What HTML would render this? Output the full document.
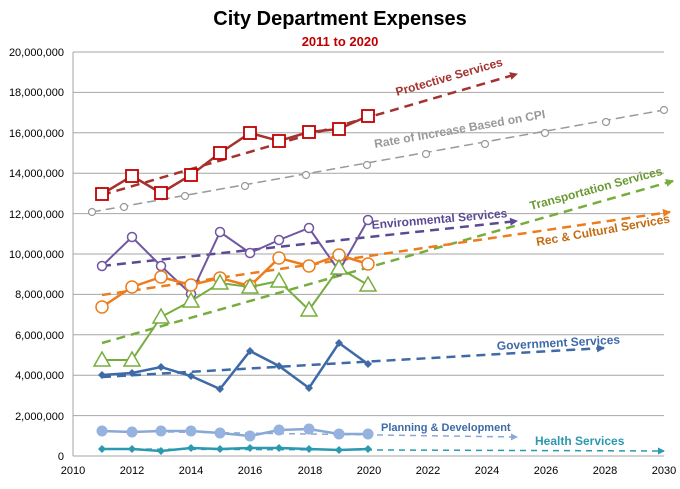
<!DOCTYPE html><html><head><style>body{margin:0;background:#fff}svg{display:block;font-family:"Liberation Sans",sans-serif}</style></head><body>
<svg width="680" height="489" viewBox="0 0 680 489">
<defs>
<marker id="a1" markerWidth="8" markerHeight="8" refX="7" refY="4" orient="auto" markerUnits="userSpaceOnUse"><path d="M0,0 L8,4 L0,8z" fill="#a4332f"/></marker>
<marker id="a2" markerWidth="8" markerHeight="8" refX="7" refY="4" orient="auto" markerUnits="userSpaceOnUse"><path d="M0,0 L8,4 L0,8z" fill="#77ad3e"/></marker>
<marker id="a3" markerWidth="8" markerHeight="8" refX="7" refY="4" orient="auto" markerUnits="userSpaceOnUse"><path d="M0,0 L8,4 L0,8z" fill="#ed7d1c"/></marker>
<marker id="a4" markerWidth="8" markerHeight="8" refX="7" refY="4" orient="auto" markerUnits="userSpaceOnUse"><path d="M0,0 L8,4 L0,8z" fill="#5b4a93"/></marker>
<marker id="a5" markerWidth="8" markerHeight="8" refX="7" refY="4" orient="auto" markerUnits="userSpaceOnUse"><path d="M0,0 L8,4 L0,8z" fill="#3e6aa7"/></marker>
<marker id="a6" markerWidth="7" markerHeight="7" refX="6" refY="3.5" orient="auto" markerUnits="userSpaceOnUse"><path d="M0,0 L7,3.5 L0,7z" fill="#8aa8d6"/></marker>
<marker id="a7" markerWidth="7" markerHeight="7" refX="6" refY="3.5" orient="auto" markerUnits="userSpaceOnUse"><path d="M0,0 L7,3.5 L0,7z" fill="#2b99b0"/></marker>
</defs>
<text x="340" y="25" text-anchor="middle" font-size="20" font-weight="bold">City Department Expenses</text>
<text x="340" y="46" text-anchor="middle" font-size="13" font-weight="bold" fill="#c00000">2011 to 2020</text>
<g stroke="#a6a6a6" stroke-width="1">
<line x1="73" y1="52" x2="664" y2="52"/><line x1="73" y1="92.4" x2="664" y2="92.4"/><line x1="73" y1="132.8" x2="664" y2="132.8"/><line x1="73" y1="173.2" x2="664" y2="173.2"/><line x1="73" y1="213.6" x2="664" y2="213.6"/><line x1="73" y1="254" x2="664" y2="254"/><line x1="73" y1="294.4" x2="664" y2="294.4"/><line x1="73" y1="334.8" x2="664" y2="334.8"/><line x1="73" y1="375.2" x2="664" y2="375.2"/><line x1="73" y1="415.6" x2="664" y2="415.6"/><line x1="73" y1="456" x2="664" y2="456"/>
<line x1="73" y1="52" x2="73" y2="456"/>
</g>
<g font-size="11" text-anchor="end" fill="#000">
<text x="64" y="56">20,000,000</text><text x="64" y="96">18,000,000</text><text x="64" y="137">16,000,000</text><text x="64" y="177">14,000,000</text><text x="64" y="218">12,000,000</text><text x="64" y="258">10,000,000</text><text x="64" y="298">8,000,000</text><text x="64" y="339">6,000,000</text><text x="64" y="379">4,000,000</text><text x="64" y="420">2,000,000</text><text x="64" y="460">0</text>
</g>
<g font-size="11" text-anchor="middle">
<text x="73" y="474">2010</text><text x="132" y="474">2012</text><text x="191" y="474">2014</text><text x="250" y="474">2016</text><text x="310" y="474">2018</text><text x="369" y="474">2020</text><text x="428" y="474">2022</text><text x="487" y="474">2024</text><text x="546" y="474">2026</text><text x="605" y="474">2028</text><text x="664" y="474">2030</text>
</g>
<!-- CPI -->
<polyline points="92,212 664,110" fill="none" stroke="#999" stroke-width="1.5" stroke-dasharray="9,5"/>
<g fill="#fff" stroke="#999" stroke-width="1.2">
<circle cx="92" cy="212" r="3.5"/><circle cx="124" cy="207" r="3.5"/><circle cx="185" cy="196" r="3.5"/><circle cx="245" cy="186" r="3.5"/><circle cx="306" cy="175" r="3.5"/><circle cx="367" cy="165" r="3.5"/><circle cx="426" cy="154" r="3.5"/><circle cx="485" cy="144" r="3.5"/><circle cx="545" cy="133" r="3.5"/><circle cx="606" cy="122" r="3.5"/><circle cx="664" cy="110" r="3.5"/>
</g>
<!-- trends -->
<g fill="none" stroke-width="2.5" stroke-dasharray="9,6">
<line x1="102" y1="195" x2="517" y2="74" stroke="#a4332f" marker-end="url(#a1)"/>
<line x1="102" y1="343" x2="673" y2="181" stroke="#77ad3e" marker-end="url(#a2)"/>
<line x1="102" y1="295" x2="670" y2="212" stroke="#ed7d1c" marker-end="url(#a3)"/>
<line x1="102" y1="266" x2="517" y2="221" stroke="#5b4a93" marker-end="url(#a4)"/>
<line x1="102" y1="377" x2="604" y2="348" stroke="#3e6aa7" marker-end="url(#a5)"/>
</g>
<g fill="none" stroke-width="1.5" stroke-dasharray="6,5">
<line x1="102" y1="431" x2="517" y2="437" stroke="#8aa8d6" marker-end="url(#a6)"/>
<line x1="102" y1="449" x2="664" y2="451" stroke="#2b99b0" marker-end="url(#a7)"/>
</g>
<!-- series -->
<polyline points="102,194 132,176 161,193 191,175 220,153 250,133 279,141 309,132 339,129 368,116" fill="none" stroke="#a4332f" stroke-width="2.5"/>
<g fill="#fff" stroke="#c00000" stroke-width="1.8">
<rect x="96" y="188" width="12" height="12"/><rect x="126" y="170" width="12" height="12"/><rect x="155" y="187" width="12" height="12"/><rect x="185" y="169" width="12" height="12"/><rect x="214" y="147" width="12" height="12"/><rect x="244" y="127" width="12" height="12"/><rect x="273" y="135" width="12" height="12"/><rect x="303" y="126" width="12" height="12"/><rect x="333" y="123" width="12" height="12"/><rect x="362" y="110" width="12" height="12"/>
</g>
<polyline points="102,266 132,237 161,266 191,294 220,232 250,253 279,240 309,228 339,271 368,220" fill="none" stroke="#7057a2" stroke-width="2"/>
<g fill="#fff" stroke="#7057a2" stroke-width="1.5">
<circle cx="102" cy="266" r="4.5"/><circle cx="132" cy="237" r="4.5"/><circle cx="161" cy="266" r="4.5"/><circle cx="191" cy="294" r="4.5"/><circle cx="220" cy="232" r="4.5"/><circle cx="250" cy="253" r="4.5"/><circle cx="279" cy="240" r="4.5"/><circle cx="309" cy="228" r="4.5"/><circle cx="339" cy="271" r="4.5"/><circle cx="368" cy="220" r="4.5"/>
</g>
<polyline points="102,307 132,287 161,277 191,285 220,278 250,286 279,258 309,266 339,255 368,264" fill="none" stroke="#ed7d1c" stroke-width="2.5"/>
<g fill="#fff" stroke="#ed7d1c" stroke-width="1.5">
<circle cx="102" cy="307" r="6"/><circle cx="132" cy="287" r="6"/><circle cx="161" cy="277" r="6"/><circle cx="191" cy="285" r="6"/><circle cx="220" cy="278" r="6"/><circle cx="250" cy="286" r="6"/><circle cx="279" cy="258" r="6"/><circle cx="309" cy="266" r="6"/><circle cx="339" cy="255" r="6"/><circle cx="368" cy="264" r="6"/>
</g>
<polyline points="102,360 132,360 161,317 191,301 220,283 250,287 279,281 309,310 339,268 368,285" fill="none" stroke="#77ad3e" stroke-width="2"/>
<g fill="#fff" stroke="#77ad3e" stroke-width="1.5">
<path d="M102,352 l8,14 h-16z"/><path d="M132,352 l8,14 h-16z"/><path d="M161,309 l8,14 h-16z"/><path d="M191,293 l8,14 h-16z"/><path d="M220,275 l8,14 h-16z"/><path d="M250,279 l8,14 h-16z"/><path d="M279,273 l8,14 h-16z"/><path d="M309,302 l8,14 h-16z"/><path d="M339,260 l8,14 h-16z"/><path d="M368,277 l8,14 h-16z"/>
</g>
<polyline points="102,375 132,373 161,367 191,376 220,389 250,351 279,366 309,388 339,343 368,364" fill="none" stroke="#3e6aa7" stroke-width="2.5"/>
<g fill="#3e6aa7">
<path d="M102,371 l4,4 -4,4 -4,-4z"/><path d="M132,369 l4,4 -4,4 -4,-4z"/><path d="M161,363 l4,4 -4,4 -4,-4z"/><path d="M191,372 l4,4 -4,4 -4,-4z"/><path d="M220,385 l4,4 -4,4 -4,-4z"/><path d="M250,347 l4,4 -4,4 -4,-4z"/><path d="M279,362 l4,4 -4,4 -4,-4z"/><path d="M309,384 l4,4 -4,4 -4,-4z"/><path d="M339,339 l4,4 -4,4 -4,-4z"/><path d="M368,360 l4,4 -4,4 -4,-4z"/>
</g>
<polyline points="102,431 132,432 161,431 191,431 220,433 250,436 279,430 309,429 339,434 368,434" fill="none" stroke="#8aa8d6" stroke-width="2.5"/>
<g fill="#95b3de">
<circle cx="102" cy="431" r="5.5"/><circle cx="132" cy="432" r="5.5"/><circle cx="161" cy="431" r="5.5"/><circle cx="191" cy="431" r="5.5"/><circle cx="220" cy="433" r="5.5"/><circle cx="250" cy="436" r="5.5"/><circle cx="279" cy="430" r="5.5"/><circle cx="309" cy="429" r="5.5"/><circle cx="339" cy="434" r="5.5"/><circle cx="368" cy="434" r="5.5"/>
</g>
<polyline points="102,449 132,449 161,451 191,448 220,449 250,448 279,448 309,449 339,450 368,449" fill="none" stroke="#2b99b0" stroke-width="2.5"/>
<g fill="#2b99b0">
<path d="M102,445 l4,4 -4,4 -4,-4z"/><path d="M132,445 l4,4 -4,4 -4,-4z"/><path d="M161,447 l4,4 -4,4 -4,-4z"/><path d="M191,444 l4,4 -4,4 -4,-4z"/><path d="M220,445 l4,4 -4,4 -4,-4z"/><path d="M250,444 l4,4 -4,4 -4,-4z"/><path d="M279,444 l4,4 -4,4 -4,-4z"/><path d="M309,445 l4,4 -4,4 -4,-4z"/><path d="M339,446 l4,4 -4,4 -4,-4z"/><path d="M368,445 l4,4 -4,4 -4,-4z"/>
</g>
<!-- labels -->
<g font-weight="bold" font-size="12">
<text x="397" y="96" fill="#a4332f" transform="rotate(-16 397 96)">Protective Services</text>
<text x="375" y="148" fill="#999" transform="rotate(-10 375 148)">Rate of Increase Based on CPI</text>
<text x="531" y="210" fill="#6b9a35" transform="rotate(-15 531 210)">Transportation Services</text>
<text x="372" y="229" fill="#5b4a93" transform="rotate(-5 372 229)">Environmental Services</text>
<text x="537" y="246" fill="#c56a10" transform="rotate(-10 537 246)">Rec &amp; Cultural Services</text>
<text x="497" y="350" fill="#3e6aa7" transform="rotate(-3 497 350)">Government Services</text>
<text x="381" y="431" fill="#3e6aa7" font-size="11">Planning &amp; Development</text>
<text x="535" y="445" fill="#2b99b0">Health Services</text>
</g>
</svg>
</body></html>
